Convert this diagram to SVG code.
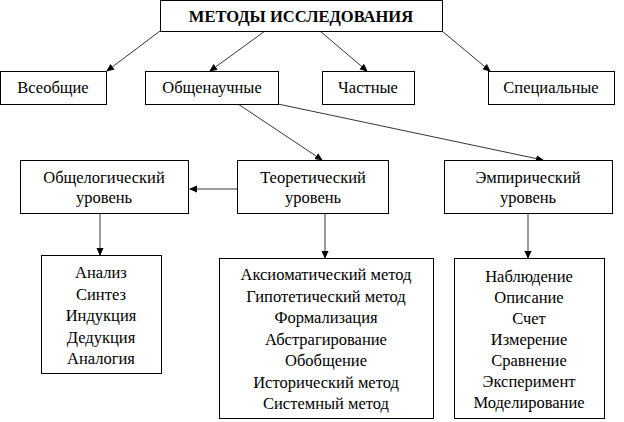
<svg xmlns="http://www.w3.org/2000/svg" width="624" height="422" viewBox="0 0 624 422">
<style>
rect{fill:#fff;stroke:#000;stroke-width:1}
text{font-family:"Liberation Serif","Times New Roman","DejaVu Serif",serif;font-size:16.5px;text-anchor:middle;fill:#000}
.b{font-weight:bold}
#conn line{stroke:#000;stroke-width:0.8;marker-end:url(#a)}
</style>
<defs><marker id="a" markerWidth="8" markerHeight="8" refX="7" refY="4" orient="auto" markerUnits="userSpaceOnUse"><path d="M0,0.5L8,4L0,7.5z" fill="#000"/></marker></defs>
<rect width="624" height="422" style="stroke:none"/>
<g id="conn">
<line x1="160" y1="31" x2="107" y2="71"/>
<line x1="265" y1="31" x2="210" y2="71"/>
<line x1="320" y1="31" x2="367" y2="71"/>
<line x1="442" y1="31" x2="490" y2="71"/>
<line x1="238" y1="104" x2="322" y2="160"/>
<line x1="278" y1="104" x2="543" y2="160"/>
<line x1="237" y1="189" x2="190" y2="189"/>
<line x1="100" y1="213" x2="100" y2="255"/>
<line x1="325" y1="213" x2="325" y2="258"/>
<line x1="528" y1="213" x2="528" y2="258"/>
</g>
<g id="title"><rect x="160.5" y="0.5" width="282" height="31"/><text class="b" x="301" y="22">МЕТОДЫ ИССЛЕДОВАНИЯ</text></g>
<g id="n1"><rect x="0.5" y="71.5" width="106" height="33"/><text x="53" y="93">Всеобщие</text></g>
<g id="n2"><rect x="145.5" y="71.5" width="133" height="33"/><text x="212" y="93">Общенаучные</text></g>
<g id="n3"><rect x="322.5" y="71.5" width="92" height="33"/><text x="368" y="93">Частные</text></g>
<g id="n4"><rect x="488.5" y="71.5" width="126" height="33"/><text x="551" y="93">Специальные</text></g>
<g id="l1"><rect x="20.5" y="160.5" width="168" height="53"/><text x="104" y="183">Общелогический</text><text x="104" y="203">уровень</text></g>
<g id="l2"><rect x="237.5" y="160.5" width="151" height="53"/><text x="313" y="183">Теоретический</text><text x="313" y="203">уровень</text></g>
<g id="l3"><rect x="444.5" y="160.5" width="168" height="53"/><text x="528" y="183">Эмпирический</text><text x="528" y="203">уровень</text></g>
<g id="b1"><rect x="41.5" y="255.5" width="120" height="118"/>
<text x="101" y="278">Анализ</text><text x="101" y="299.5">Синтез</text><text x="101" y="321">Индукция</text><text x="101" y="342.5">Дедукция</text><text x="101" y="364">Аналогия</text></g>
<g id="b2"><rect x="219.5" y="258.5" width="214" height="160"/>
<text x="326" y="280">Аксиоматический метод</text><text x="326" y="301.5">Гипотетический метод</text><text x="326" y="323">Формализация</text><text x="326" y="344.5">Абстрагирование</text><text x="326" y="366">Обобщение</text><text x="326" y="387.5">Исторический метод</text><text x="326" y="409">Системный метод</text></g>
<g id="b3"><rect x="454.5" y="258.5" width="150" height="160"/>
<text x="529" y="282">Наблюдение</text><text x="529" y="303">Описание</text><text x="529" y="324">Счет</text><text x="529" y="345">Измерение</text><text x="529" y="366">Сравнение</text><text x="529" y="387">Эксперимент</text><text x="529" y="408">Моделирование</text></g>
</svg>
